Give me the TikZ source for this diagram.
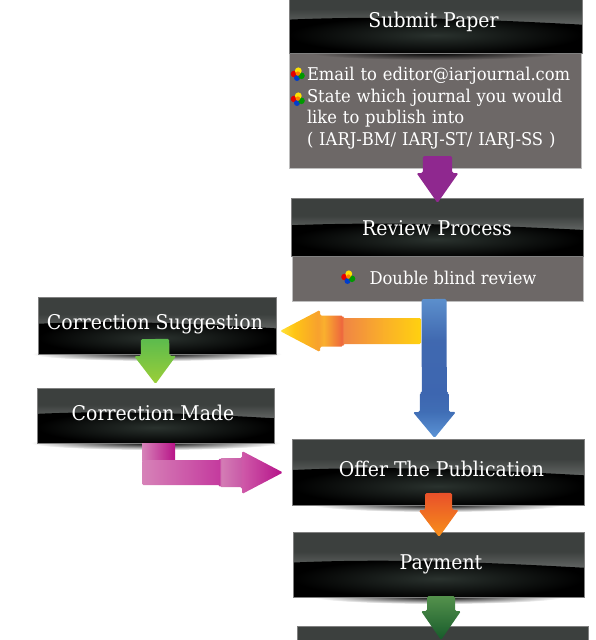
\documentclass[tikz,border=0pt]{standalone}
\usepackage{fontspec}
\setmainfont[FakeStretch=0.93]{DejaVu Serif}
\usetikzlibrary{calc,backgrounds,fadings}
\definecolor{panelgrey}{RGB}{109,104,103}
\definecolor{panelline}{RGB}{190,190,190}
\definecolor{glosstop}{RGB}{92,102,98}
\definecolor{glossedge}{RGB}{60,64,62}
\definecolor{glosslow}{RGB}{42,50,46}
\definecolor{arrowpurple}{RGB}{143,40,143}
\definecolor{limetop}{RGB}{92,187,77}
\definecolor{limelow}{RGB}{156,207,56}
\definecolor{flametop}{RGB}{232,80,42}
\definecolor{flamelow}{RGB}{248,144,26}
\definecolor{foresttop}{RGB}{84,145,76}
\definecolor{forestlow}{RGB}{22,90,42}
\definecolor{pinklight}{RGB}{214,131,184}
\definecolor{pinkdark}{RGB}{184,20,136}
\pgfdeclarehorizontalshading{orangeshade}{100bp}{
  rgb(0bp)=(1,.89,.23); rgb(25bp)=(1,.89,.23); rgb(30bp)=(1,.77,.08); rgb(38.5bp)=(.97,.63,.18); rgb(40.5bp)=(.98,.69,.18);
  rgb(47bp)=(.93,.40,.24); rgb(47.5bp)=(.94,.52,.27); rgb(62bp)=(.98,.69,.16); rgb(75bp)=(1,.82,.06); rgb(100bp)=(1,.82,.06)}
\pgfdeclareverticalshading{blueshade}{100bp}{
  rgb(0bp)=(.36,.58,.84); rgb(25bp)=(.36,.58,.84); rgb(34.5bp)=(.25,.43,.71); rgb(41bp)=(.24,.40,.69);
  rgb(60bp)=(.25,.41,.69); rgb(75bp)=(.36,.56,.80); rgb(100bp)=(.36,.56,.80)}
\pgfdeclarehorizontalshading{pinkshade}{100bp}{
  rgb(0bp)=(.84,.51,.72); rgb(25bp)=(.84,.51,.72); rgb(52.5bp)=(.77,.23,.62); rgb(53bp)=(.83,.49,.71); rgb(60bp)=(.79,.36,.66);
  rgb(60.5bp)=(.81,.35,.66); rgb(75bp)=(.71,.07,.54); rgb(100bp)=(.71,.07,.54)}
\tikzset{
  glossy/.style={rectangle, draw=gray, thin, inner sep=0pt, outer sep=0pt, minimum width=292pt,
    text height=37.5pt, text=white, font=\fontsize{20.3}{24}\selectfont,
    path picture={
      \pgfpointdiff{\pgfpointanchor{path picture bounding box}{north west}}{\pgfpointanchor{path picture bounding box}{south east}}
      \pgfgetlastxy{\glossw}{\glossh}
      \begin{scope}[x=\glossw, y=\glossh]
        \pgftransformreset
        \pgftransformshift{\pgfpointanchor{path picture bounding box}{north west}}
        \shade[left color=glossedge, middle color=glosstop, right color=glossedge] (0,0) rectangle (1,1);
        \fill[white, fill opacity=.2, path fading=north] (0,.3) rectangle (1,.56);
        \shade[inner color=glosslow, outer color=black]
          (0,.47) .. controls (.3,.41) and (.6,.45) .. (1,.55) -- (1,1.02) -- (0,1.02) -- cycle;
      \end{scope}
    }},
  small/.style={minimum width=238pt, text height=32.5pt},
  panel/.style={rectangle, draw=panelline, fill=panelgrey, thin, inner sep=0pt, outer sep=0pt, minimum width=292pt,
    text=white, font=\fontsize{17.6}{21.7}\selectfont},
  blockarrow/.style args={#1/#2/#3/#4/#5}{rounded corners=1.5pt, to path={
    ($(\tikztostart)!#1!-90:(\tikztotarget)$)
    -- ($(\tikztotarget)!#5!(\tikztostart)!#1!90:(\tikztostart)$)
    -- ($(\tikztotarget)!#5!(\tikztostart)!#2!90:(\tikztostart)$)
    -- ($(\tikztotarget)!#4!(\tikztostart)!#2!90:(\tikztostart)$)
    -- ($(\tikztotarget)!#4!(\tikztostart)!#3!90:(\tikztostart)$)
    -- (\tikztotarget)
    -- ($(\tikztotarget)!#4!(\tikztostart)!#3!-90:(\tikztostart)$)
    -- ($(\tikztotarget)!#4!(\tikztostart)!#2!-90:(\tikztostart)$)
    -- ($(\tikztotarget)!#5!(\tikztostart)!#2!-90:(\tikztostart)$)
    -- ($(\tikztotarget)!#5!(\tikztostart)!#1!-90:(\tikztostart)$)
    -- ($(\tikztostart)!#1!90:(\tikztotarget)$) -- cycle}},
  cubes/.pic={
    \fill[red!90!black] (-3.5,0) circle (3.3);
    \fill[blue!70!cyan!80!black] (-.5,4) circle (3);
    \fill[green!60!black] (4,1.8) circle (3.3);
    \fill[yellow!85!orange] (.8,-3.2) circle (3.4);
    \fill[orange] (.4,-.4) circle (2.2);
  }
}
\begin{document}
\begin{tikzpicture}[x=1pt, y=-1pt]
  \useasboundingbox (0,0) rectangle (595,640);

  \node[glossy, minimum width=293pt, text depth=25.5pt] (submit) at (435.5,21.5) {Submit Paper\hspace*{4pt}};
  \node[glossy, text depth=20.5pt] (review) at (437,227) {Review Process};
  \node[glossy, small, text depth=24.5pt] (suggestion) at (157,325.5) {Correction Suggestion\hspace*{4pt}};
  \node[glossy, small, minimum width=237pt, text depth=22.5pt] (made) at (155.5,415.5) {Correction Made\hspace*{5pt}};
  \node[glossy, text depth=28.5pt] (offer) at (438,472) {\hspace*{7pt}Offer The Publication};
  \node[glossy, minimum width=291pt, text depth=27.5pt] (payment) at (438.5,564.5) {\hspace*{5pt}Payment};
  \node[glossy, minimum width=291pt, text depth=26.5pt] (next) at (442.5,658) {};

  \begin{scope}[on background layer]
    \node[panel, minimum height=115pt, text width=256pt, inner xsep=18pt, align=left] (submitbody) at (435,110.5)
      {\mbox{Email to editor@iarjournal.com}\\State which journal you would\\like to publish into\\( IARJ-BM/ IARJ-ST/ IARJ-SS )\par\vspace{5pt}};
    \node[panel, minimum height=46pt, minimum width=291pt] (reviewbody) at (437.5,278) {\hspace*{31pt}Double blind review};
    \foreach \boxname/\under in {submit/panelgrey,suggestion/white,made/white,offer/white,payment/white}
      \shade[inner color=black, outer color=\under, shading=radial]
        (\boxname.south) ellipse (125 and 7);
  \end{scope}

  \pic at (297.5,74) {cubes};
  \pic at (297.5,99) {cubes};
  \pic at (348,277) {cubes};

  % arrows
  \fill[arrowpurple, blockarrow=14.7pt/14.7pt/21pt/30pt/30pt]
    ($(submitbody.south)+(2.5,-12)$) to ($(review.north)+(.5,5)$);
  \shade[shading=orangeshade, blockarrow=13pt/15.5pt/21pt/40pt/63pt]
    ($(reviewbody.south)+(-16.5,30)$) to ($(suggestion.east)+(4,5.5)$);
  \shade[shading=blueshade, blockarrow=12.5pt/14.5pt/21.5pt/26pt/45pt]
    ($(reviewbody.south)+(-3.5,-2)$) to ($(offer.north)+(-3.5,-1)$);
  \shade[top color=limetop, bottom color=limelow, blockarrow=14.2pt/14.2pt/21pt/28pt/28pt]
    ($(suggestion.south)+(-2,-15)$) to ($(made.north)+(0,-4)$);
  \shade[left color=pinklight, right color=pinkdark]
    ($(made.south)+(-13.5,0)$) rectangle ($(made.south)+(19.5,17)$);
  \shade[shading=pinkshade, blockarrow=12.5pt/14.5pt/21.5pt/41pt/63pt]
    ($(made.south)+(-13.5,29.5)$) to ($(offer.west)+(-9,.5)$);
  \shade[top color=flametop, bottom color=flamelow, blockarrow=13.5pt/13.5pt/20pt/27pt/27pt]
    ($(offer.south)+(.5,-12)$) to ($(payment.north)+(.5,5)$);
  \shade[top color=foresttop, bottom color=forestlow, blockarrow=14pt/14pt/20pt/29pt/29pt]
    ($(payment.south)+(2.5,-1)$) to ($(next.north)+(-1.5,14)$);
\end{tikzpicture}
\end{document}
